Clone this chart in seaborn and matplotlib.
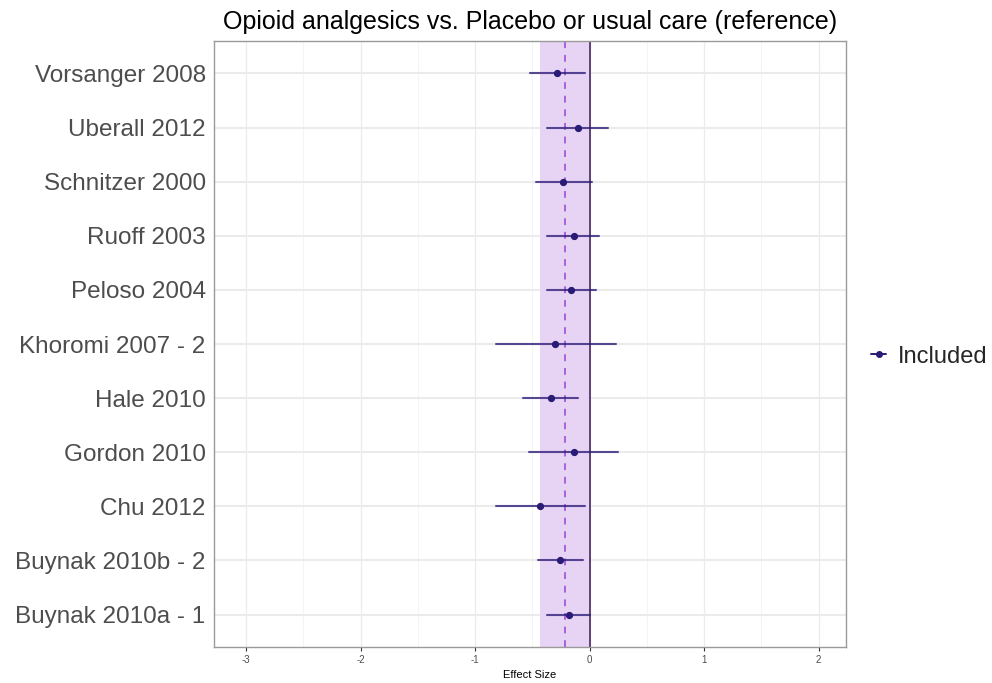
import numpy as np
import pandas as pd
import matplotlib
matplotlib.use("Agg")
import matplotlib.pyplot as plt
from matplotlib.lines import Line2D
import seaborn as sns

# Study estimates with 95% confidence limits
studies = ["Vorsanger 2008", "Uberall 2012", "Schnitzer 2000", "Ruoff 2003",
           "Peloso 2004", "Khoromi 2007 - 2", "Hale 2010", "Gordon 2010",
           "Chu 2012", "Buynak 2010b - 2", "Buynak 2010a - 1"]
effect = [-0.28, -0.10, -0.23, -0.14, -0.16, -0.30, -0.34, -0.14, -0.43, -0.26, -0.18]
ci_low = [-0.52, -0.37, -0.47, -0.37, -0.37, -0.82, -0.58, -0.53, -0.82, -0.45, -0.37]
ci_high = [-0.04, 0.16, 0.02, 0.08, 0.06, 0.23, -0.10, 0.25, -0.04, -0.06, 0.00]
status = ["Included"] * len(studies)

# Pooled estimate and its confidence band
pooled_effect = -0.215
pooled_low = -0.43
pooled_high = 0.0

xticks = [-3, -2, -1, 0, 1, 2]

point_color = "#2a1b77"

# long format: each study contributes its lower limit, estimate and upper limit
rows = []
for s, lo, est, hi, st in zip(studies, ci_low, effect, ci_high, status):
    for v in (lo, est, hi):
        rows.append({"study": s, "value": v, "status": st})
df = pd.DataFrame(rows)

sns.set_theme(style="white")
plt.rcParams["font.family"] = ["Liberation Sans", "DejaVu Sans"]

fig = plt.figure(figsize=(9.92, 6.83), dpi=100)
ax = fig.add_axes([214 / 992, 1 - 647 / 683, (846 - 214) / 992, (647 - 41) / 683])

# grid
for x in np.arange(-3.5, 2.51, 0.5):
    major = float(x).is_integer()
    ax.axvline(x, color="#ebebeb" if major else "#f3f3f3",
               lw=0.9 if major else 0.6, zorder=0)
for i in range(len(studies)):
    ax.axhline(i, color="#ebebeb", lw=1.5, zorder=0)

# pooled band and reference lines
ax.axvspan(pooled_low, pooled_high, color="#e7d3f3", lw=0, zorder=1)
ax.axvline(pooled_effect, color="#a862dc", lw=1.4, ls=(0, (3.5, 3.5)), zorder=2)
ax.axvline(0, color="#5e4178", lw=1.4, zorder=2)

sns.pointplot(data=df, x="value", y="study", hue="status", order=studies,
              estimator="median", errorbar=lambda v: (v.min(), v.max()),
              orient="h", linestyle="none", palette={"Included": point_color},
              markers="o", markersize=3.2, err_kws={"linewidth": 1.5, "alpha": 0.78},
              legend=False, ax=ax, zorder=3)

ax.set_xlim(-3.28, 2.24)
ax.set_ylim(len(studies) - 0.4, -0.6)
ax.set_xticks(xticks)
ax.set_xticklabels([str(t) for t in xticks], fontsize=7, color="#4d4d4d")
ax.tick_params(axis="x", length=3, width=0.8, color="#333333", pad=3, bottom=True)
ax.tick_params(axis="y", length=0, labelsize=17.5, labelcolor="#4d4d4d", pad=6)
ax.set_xlabel("Effect Size", fontsize=8, color="black", labelpad=3)
ax.set_ylabel("")
ax.set_title("Opioid analgesics vs. Placebo or usual care (reference)",
             fontsize=18, color="black", pad=9)
for sp in ax.spines.values():
    sp.set_visible(True)
    sp.set_color("#9a9a9a")
    sp.set_linewidth(1.0)

handle = Line2D([], [], color=point_color, lw=1.4, marker="o", markersize=4)
ax.legend([handle], [status[0]], loc="center left", bbox_to_anchor=(1.04, 0.479),
          frameon=False, fontsize=17, handlelength=0.62, handletextpad=0.5,
          borderaxespad=0, borderpad=0)

fig.savefig("out.png", dpi=100)
